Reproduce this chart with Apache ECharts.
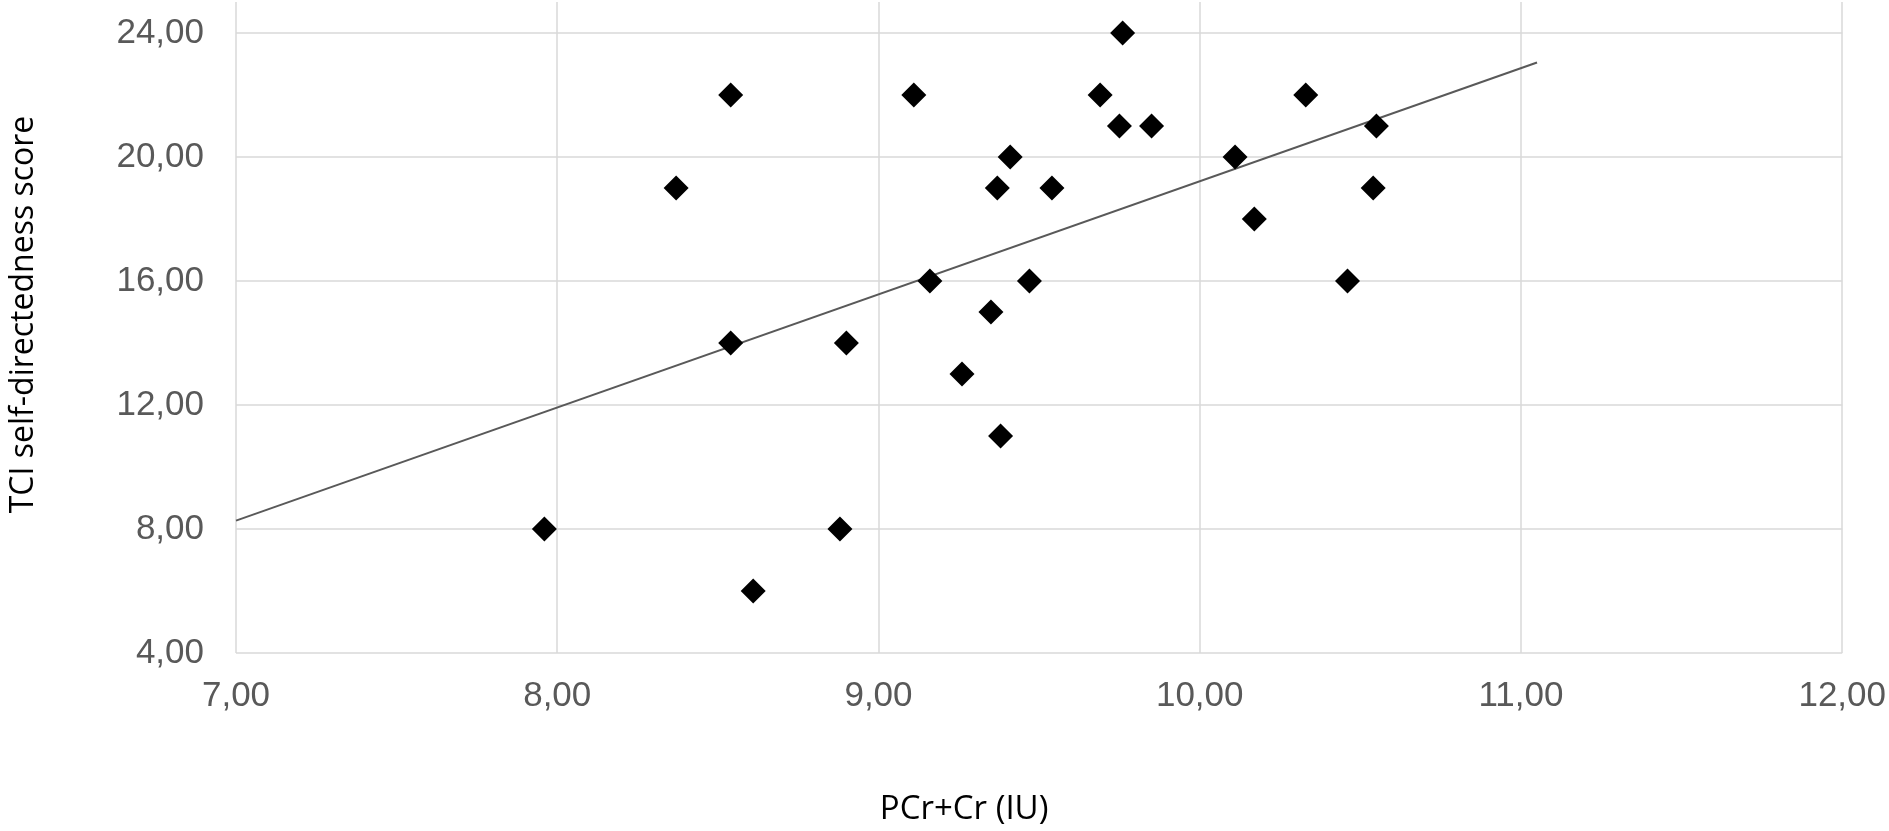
<!DOCTYPE html>
<html>
<head>
<meta charset="utf-8">
<script src="https://cdn.jsdelivr.net/npm/echarts@6/dist/echarts.min.js"></script>
<style>
  html, body { margin: 0; padding: 0; background: #fff; }
  .chart { width: 1889px; height: 831px; }
</style>
</head>
<body>
<div class="chart"></div>
<script>
// PCr+Cr (IU) vs TCI self-directedness score
var pcrCr = [7.96, 8.37, 8.54, 8.54, 8.61, 8.88, 8.90, 9.11, 9.16, 9.26, 9.35, 9.37, 9.38,
    9.41, 9.47, 9.54, 9.69, 9.75, 9.76, 9.85, 10.11, 10.17, 10.33, 10.46, 10.55, 10.54]
var tciScore = [8, 19, 22, 14, 6, 8, 14, 22, 16, 13, 15, 19, 11,
    20, 16, 19, 22, 21, 24, 21, 20, 18, 22, 16, 21, 19]

// trend line end points
var trendX = [7.00, 11.05]
var trendY = [8.27, 23.05]

var xTicks = [7, 8, 9, 10, 11, 12]
var yTicks = [4, 8, 12, 16, 20, 24]
var yTop = 25 // vertical grid lines run a bit above the last tick

var points = []
for (var i = 0; i < pcrCr.length; i++) {
    points.push([pcrCr[i], tciScore[i]])
}
var trend = []
for (var i = 0; i < trendX.length; i++) {
    trend.push([trendX[i], trendY[i]])
}

function fmt(v) {
    return v.toFixed(2).replace('.', ',')
}

var chart = echarts.init(document.querySelector('.chart'), null, {
    renderer: 'canvas'
});

chart.setOption({
    animation: false,
    grid: {
        left: 200,
        right: 46,
        top: 2,
        bottom: 173
    },
    xAxis: {
        type: 'value',
        min: xTicks[0],
        max: xTicks[xTicks.length - 1],
        interval: 1,
        name: 'PCr+Cr (IU)',
        nameLocation: 'middle',
        nameGap: 140,
        nameTextStyle: {
            color: '#000',
            fontFamily: 'Open Sans',
            fontSize: 33,
            padding: [0, 150, 0, 0]
        },
        axisLine: { show: false },
        axisTick: { show: false },
        axisLabel: {
            formatter: fmt,
            color: '#595959',
            fontFamily: 'Liberation Sans',
            fontSize: 35,
            margin: 26
        },
        splitLine: {
            show: true,
            lineStyle: { color: '#d9d9d9', width: 1.5 }
        }
    },
    yAxis: {
        type: 'value',
        min: yTicks[0],
        max: yTop,
        interval: 4,
        name: 'TCI self-directedness score',
        nameLocation: 'middle',
        nameGap: 196,
        nameRotate: 90,
        nameTextStyle: {
            color: '#000',
            fontFamily: 'Open Sans',
            fontSize: 32,
            padding: [0, 0, 0, 26]
        },
        axisLine: { show: false },
        axisTick: { show: false },
        axisLabel: {
            formatter: fmt,
            showMaxLabel: false,
            color: '#595959',
            fontFamily: 'Liberation Sans',
            fontSize: 35,
            margin: 32
        },
        splitLine: {
            show: true,
            showMaxLine: false,
            lineStyle: { color: '#d9d9d9', width: 1.5 }
        }
    },
    series: [
        {
            type: 'line',
            data: trend,
            symbol: 'none',
            silent: true,
            lineStyle: { color: '#595959', width: 2 },
            z: 1
        },
        {
            type: 'scatter',
            data: points,
            symbol: 'diamond',
            symbolSize: 25,
            itemStyle: { color: '#000', opacity: 1 },
            z: 2
        }
    ]
})
</script>
</body>
</html>
